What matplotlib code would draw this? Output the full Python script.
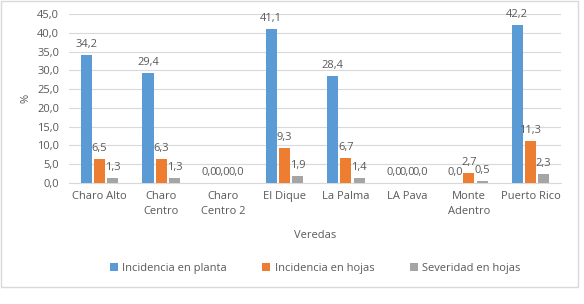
import numpy as np
import matplotlib
matplotlib.use("Agg")
import matplotlib.pyplot as plt
from matplotlib.patches import Rectangle
from matplotlib.ticker import FuncFormatter

plt.rcParams['font.family'] = ['Open Sans', 'DejaVu Sans']

veredas = ['Charo Alto', 'Charo\nCentro', 'Charo\nCentro 2', 'El Dique', 'La Palma',
           'LA Pava', 'Monte\nAdentro', 'Puerto Rico']
series = ['Incidencia en planta', 'Incidencia en hojas', 'Severidad en hojas']
inc_planta = [34.2, 29.4, 0.0, 41.1, 28.4, 0.0, 0.0, 42.2]
inc_hojas = [6.5, 6.3, 0.0, 9.3, 6.7, 0.0, 2.7, 11.3]
sev_hojas = [1.3, 1.3, 0.0, 1.9, 1.4, 0.0, 0.5, 2.3]
colors = ['#5B9BD5', '#ED7D31', '#A5A5A5']

txt = '#595959'
fs = 8
fig = plt.figure(figsize=(5.84, 3.04), dpi=100)
ax = fig.add_axes([0.118, 0.398, 0.843, 0.556])

# chart border
fig.patches.append(Rectangle((0.002, 0.056), 0.988, 0.94, transform=fig.transFigure,
                             fill=False, edgecolor='#D9D9D9', linewidth=1))

x = np.arange(len(veredas))
w = 0.18
step = 0.215
for i, (vals, name) in enumerate(zip([inc_planta, inc_hojas, sev_hojas], series)):
    pos = x + (i - 1) * step
    ax.bar(pos, vals, width=w, color=colors[i], label=name, zorder=3)
    for p, v in zip(pos, vals):
        ax.text(p, v + 1.3, ('%.1f' % v).replace('.', ','), ha='center', va='bottom',
                fontsize=fs, color=txt)

ax.set_ylim(0, 45)
ax.set_xlim(-0.5, len(veredas) - 0.5)
ax.set_yticks(np.arange(0, 46, 5))
ax.yaxis.set_major_formatter(FuncFormatter(lambda v, p: ('%.1f' % v).replace('.', ',')))
ax.grid(axis='y', color='#D9D9D9', linewidth=0.8, zorder=0)
ax.set_xticks(x)
ax.set_xticklabels(veredas, fontsize=fs, color=txt, linespacing=1.5)
ax.tick_params(axis='y', labelsize=fs, labelcolor=txt, length=0, pad=7)
ax.tick_params(axis='x', length=0, pad=6)
for s in ['top', 'right', 'left']:
    ax.spines[s].set_visible(False)
ax.spines['bottom'].set_color('#D9D9D9')

ax.set_ylabel('%', fontsize=fs, color=txt, labelpad=4)
ax.set_xlabel('Veredas', fontsize=fs, color=txt, labelpad=9)

ax.legend(loc='center', bbox_to_anchor=(0.5, -0.505), ncol=3, frameon=False,
          fontsize=fs, labelcolor=txt, handlelength=0.7, handleheight=0.7,
          handletextpad=0.4, columnspacing=3.2)

fig.savefig('out.png', dpi=100)
